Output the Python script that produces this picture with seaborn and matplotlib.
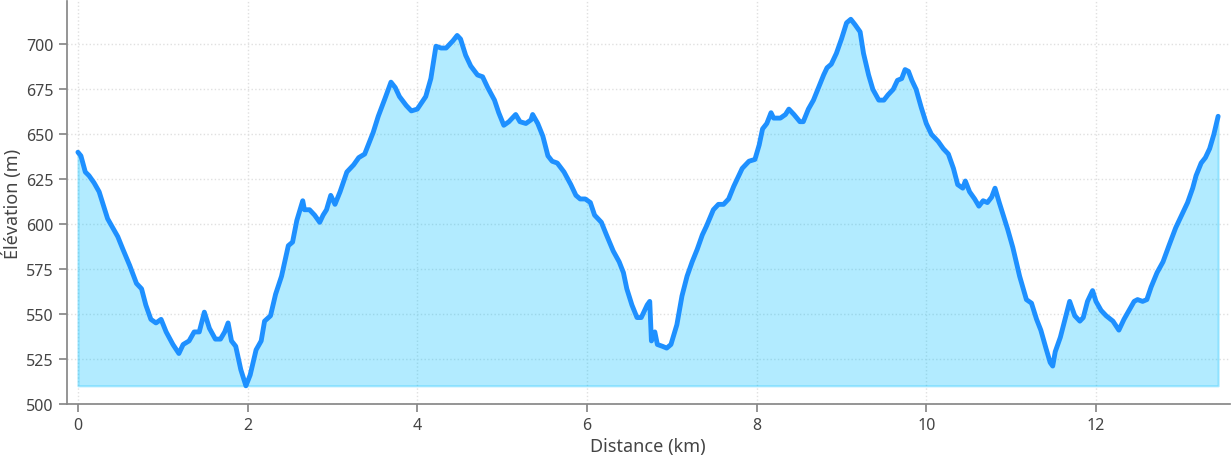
import numpy as np
import pandas as pd
import matplotlib
matplotlib.use("Agg")
import matplotlib.pyplot as plt
import seaborn as sns

# ==========================================
# Elevation profile
# ==========================================

distance_km = [
    0.00, 0.035, 0.087, 0.13, 0.19, 0.25, 0.29, 0.35, 0.41, 0.47, 0.53, 0.61,
    0.69, 0.75, 0.80, 0.86, 0.92, 0.98, 1.04, 1.12, 1.19, 1.24, 1.31, 1.37,
    1.43, 1.49, 1.55, 1.62, 1.68, 1.73, 1.77, 1.81, 1.86, 1.92, 1.98, 2.03,
    2.10, 2.16, 2.20, 2.27, 2.33, 2.40, 2.48, 2.53, 2.58, 2.65, 2.67, 2.73,
    2.79, 2.85, 2.89, 2.93, 2.98, 3.03, 3.09, 3.17, 3.25, 3.31, 3.38, 3.48,
    3.54, 3.62, 3.69, 3.74, 3.79, 3.87, 3.93, 4.00, 4.10, 4.16, 4.22, 4.28,
    4.34, 4.42, 4.47, 4.51, 4.57, 4.63, 4.71, 4.77, 4.83, 4.91, 4.96, 5.02,
    5.08, 5.16, 5.21, 5.28, 5.34, 5.36, 5.42, 5.48, 5.54, 5.59, 5.65, 5.73,
    5.81, 5.87, 5.92, 5.98, 6.04, 6.09, 6.17, 6.23, 6.31, 6.38, 6.43, 6.47,
    6.53, 6.59, 6.64, 6.71, 6.74, 6.76, 6.80, 6.83, 6.89, 6.94, 6.99, 7.06,
    7.12, 7.18, 7.24, 7.30, 7.36, 7.41, 7.49, 7.55, 7.61, 7.67, 7.73, 7.83,
    7.91, 7.98, 8.03, 8.07, 8.12, 8.17, 8.20, 8.28, 8.34, 8.38, 8.44, 8.51,
    8.55, 8.61, 8.67, 8.73, 8.79, 8.83, 8.88, 8.94, 9.00, 9.06, 9.11, 9.16,
    9.22, 9.26, 9.32, 9.37, 9.44, 9.50, 9.55, 9.61, 9.66, 9.71, 9.75, 9.79,
    9.83, 9.88, 9.94, 10.00, 10.06, 10.14, 10.20, 10.26, 10.32, 10.37, 10.43,
    10.46, 10.51, 10.57, 10.62, 10.67, 10.72, 10.77, 10.81, 10.86, 10.92,
    10.96, 11.02, 11.10, 11.18, 11.24, 11.30, 11.35, 11.41, 11.46, 11.49,
    11.52, 11.58, 11.63, 11.69, 11.75, 11.81, 11.85, 11.90, 11.96, 12.00,
    12.06, 12.12, 12.20, 12.27, 12.33, 12.39, 12.45, 12.49, 12.55, 12.60,
    12.65, 12.72, 12.79, 12.86, 12.94, 13.00, 13.08, 13.14, 13.18, 13.24,
    13.29, 13.34, 13.39, 13.44,
]

elevation_m = [
    640, 638, 629, 627, 623, 618, 612, 603, 598, 593, 586, 577,
    567, 564, 555, 547, 545, 547, 540, 533, 528, 533, 535, 540,
    540, 551, 542, 536, 536, 540, 545, 535, 532, 519, 510, 516,
    530, 535, 546, 549, 561, 571, 588, 590, 602, 613, 608, 608,
    605, 601, 605, 608, 616, 611, 618, 629, 633, 637, 639, 651,
    660, 670, 679, 676, 671, 666, 663, 664, 671, 681, 699, 698,
    698, 702, 705, 703, 694, 688, 683, 682, 676, 669, 662, 655,
    657, 661, 657, 656, 658, 661, 656, 649, 638, 635, 634, 629,
    622, 616, 614, 614, 612, 605, 601, 594, 585, 579, 573, 564,
    555, 548, 548, 555, 557, 535, 540, 533, 532, 531, 533, 544,
    560, 571, 579, 586, 594, 599, 608, 611, 611, 614, 621, 631,
    635, 636, 644, 653, 656, 662, 659, 659, 661, 664, 661, 657,
    657, 664, 669, 676, 683, 687, 689, 695, 703, 712, 714, 711,
    707, 695, 683, 675, 669, 669, 672, 675, 680, 681, 686, 685,
    680, 675, 665, 656, 650, 646, 642, 639, 631, 622, 620,
    624, 618, 614, 610, 613, 612, 615, 620, 612, 603,
    597, 587, 571, 558, 556, 547, 541, 531, 523, 521,
    529, 537, 546, 557, 549, 546, 548, 557, 563, 557,
    552, 549, 546, 541, 547, 552, 557, 558, 557, 558,
    565, 573, 579, 588, 598, 604, 612, 620, 627, 634,
    637, 642, 650, 660,
]

LINE_BLUE = "#1E90FF"
FILL_BLUE = "deepskyblue"
TEXT_GRAY = "#444444"
SPINE_GRAY = "#888888"

sns.set_theme(style="ticks")
plt.rcParams["font.family"] = ["Noto Sans", "DejaVu Sans"]

df = pd.DataFrame({"distance": distance_km, "elevation": elevation_m})

fig, ax = plt.subplots(figsize=(12.32, 4.6), dpi=100)

base = df["elevation"].min()
ax.fill_between(
    df["distance"], df["elevation"], base,
    color=FILL_BLUE, alpha=0.3, linewidth=1.5
)
sns.lineplot(data=df, x="distance", y="elevation", ax=ax,
             color=LINE_BLUE, linewidth=3.5)

ax.set_ylim(base - 10, df["elevation"].max() + 10)
ax.margins(x=0.01)
ax.set_xticks(np.arange(0, 14, 2))
ax.set_yticks(np.arange(500, 701, 25))

ax.grid(True, linestyle=":", color="#e0e0e0", linewidth=1)
ax.set_axisbelow(True)
sns.despine(ax=ax)
for side in ["left", "bottom"]:
    ax.spines[side].set_color(SPINE_GRAY)

ax.tick_params(colors=TEXT_GRAY, labelsize=11.5, color=SPINE_GRAY)
ax.set_xlabel("Distance (km)", fontsize=13, color=TEXT_GRAY, labelpad=3)
ax.set_ylabel("Élévation (m)", fontsize=13, color=TEXT_GRAY, labelpad=3)

fig.subplots_adjust(left=0.054, right=0.998, top=0.995, bottom=0.12)
fig.savefig("out.png", dpi=100)
